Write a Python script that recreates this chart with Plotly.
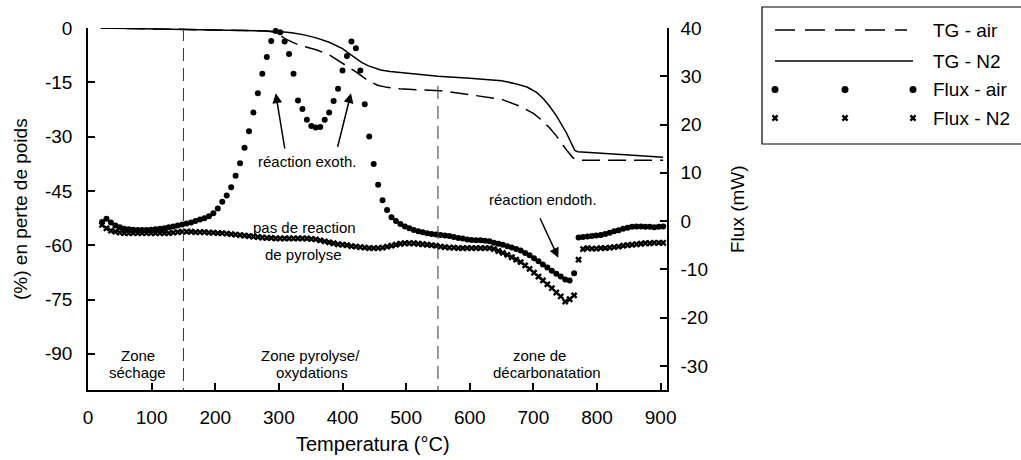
import plotly.graph_objects as go

# ---------------- data ----------------
# TG curves (left axis, % weight loss)
tg_air_T = [20, 100, 150, 200, 250, 280, 295, 310, 330, 360, 380, 400, 420, 440, 455, 470, 490, 520, 553,
            595, 630, 650, 680, 700, 710, 725, 737, 752, 762, 768, 800, 904]
tg_air = [0, -0.3, -0.5, -0.6, -0.7, -0.8, -1.2, -3.0, -4.6, -6.1, -7.5, -9.7, -12.0, -14.5, -15.8, -16.4,
          -16.8, -17.1, -17.3, -18.3, -19.2, -19.7, -21.7, -23.6, -25.0, -27.5, -30.0, -33.7, -35.8, -36.5,
          -36.5, -36.5]

tg_n2_T = [20, 100, 200, 250, 280, 300, 320, 340, 360, 380, 400, 410, 420, 430, 440, 450, 460, 475, 490,
           520, 550, 600, 650, 670, 690, 705, 715, 725, 737, 752, 765, 770, 800, 850, 904]
tg_n2 = [0, -0.2, -0.4, -0.6, -0.8, -1.0, -1.3, -1.9, -2.8, -4.0, -5.7, -7.0, -8.3, -9.5, -10.4, -11.1,
         -11.6, -12.0, -12.3, -12.8, -13.3, -13.9, -14.6, -15.3, -16.3, -17.8, -19.4, -21.5, -24.5, -29.0,
         -33.8, -34.2, -34.6, -35.1, -35.7]

# Heat flux (right axis, mW), sampled every 7 °C from 22 °C
flux_T = list(range(22, 905, 7))
flux_air = [-0.2, 0.5, -0.3, -0.9, -1.3, -1.6, -1.7, -1.8, -1.85, -1.85, -1.85, -1.8, -1.7, -1.6, -1.5,
            -1.3, -1.1, -0.9, -0.7, -0.5, -0.3, 0.0, 0.3, 0.6, 1.0, 1.6, 2.6, 4.0, 5.3, 7.0,
            9.4, 12.0, 15.2, 18.6, 22.5, 26.5, 30.5, 34.0, 37.3, 39.4, 39.1, 37.2, 34.6, 30.5, 25.0,
            23.2, 21.0, 19.7, 19.4, 19.5, 21.0, 22.5, 24.9, 27.4, 31.2, 34.2, 37.2, 35.8, 31.2, 24.2,
            17.5, 11.8, 7.5, 4.3, 2.3, 0.8, 0.0, -0.6, -1.1, -1.5, -1.85, -2.1, -2.3, -2.5, -2.7,
            -2.8, -2.9, -3.0, -3.1, -3.3, -3.5, -3.6, -3.8, -3.9, -4.0, -4.0, -4.1, -4.2, -4.5, -4.7,
            -4.9, -5.2, -5.5, -5.8, -6.1, -6.6, -7.1, -7.7, -8.3, -9.0, -9.6, -10.3, -10.9, -11.5, -12.1,
            -12.3, -10.8, -3.4, -3.3, -3.2, -3.1, -3.0, -2.9, -2.7, -2.4, -2.1, -1.9, -1.6, -1.4, -1.2,
            -1.1, -1.1, -1.2, -1.2, -1.3, -1.2, -1.1]
flux_n2 = [-0.8, -1.5, -2.0, -2.2, -2.4, -2.5, -2.5, -2.5, -2.5, -2.5, -2.5, -2.5, -2.5, -2.5, -2.5,
           -2.5, -2.4, -2.3, -2.2, -2.2, -2.2, -2.3, -2.3, -2.3, -2.4, -2.4, -2.5, -2.5, -2.6, -2.7,
           -2.8, -2.9, -3.0, -3.1, -3.2, -3.3, -3.4, -3.5, -3.5, -3.6, -3.6, -3.6, -3.6, -3.6, -3.6,
           -3.6, -3.6, -3.7, -3.8, -4.0, -4.2, -4.4, -4.6, -4.8, -4.9, -5.0, -5.2, -5.3, -5.4, -5.5,
           -5.6, -5.6, -5.6, -5.5, -5.3, -5.1, -4.9, -4.7, -4.6, -4.6, -4.6, -4.7, -4.8, -4.9, -5.0,
           -5.1, -5.3, -5.4, -5.5, -5.5, -5.6, -5.6, -5.6, -5.6, -5.6, -5.6, -5.6, -5.6, -5.8, -6.2,
           -6.6, -7.0, -7.5, -8.0, -8.5, -9.2, -9.9, -10.7, -11.5, -12.3, -13.1, -13.9, -14.8, -15.6, -16.7,
           -16.2, -15.4, -8.0, -5.8, -5.6, -5.7, -5.7, -5.6, -5.6, -5.5, -5.4, -5.3, -5.1, -5.0, -4.9,
           -4.8, -4.7, -4.6, -4.6, -4.5, -4.5, -4.5]

zone_bounds = [150, 550]
zone_tops = [0, -16]

x_ticks = [0, 100, 200, 300, 400, 500, 600, 700, 800, 900]
y_ticks = [0, -15, -30, -45, -60, -75, -90]
y_ticktext = ["0", "-15", "-30", "-45", "-60", "-75", "-90"]
y2_ticks = [40, 30, 20, 10, 0, -10, -20, -30]
y2_ticktext = ["40", "30", "20", "10", "0", "-10", "-20", "-30"]

legend_names = ["TG - air", "TG - N2", "Flux - air", "Flux - N2"]

# ---------------- figure ----------------
W, H = 1021, 460
FONT = "Liberation Sans, Arial, sans-serif"
fig = go.Figure()

fig.add_trace(go.Scatter(x=tg_air_T, y=tg_air, mode="lines", name=legend_names[0],
                         line=dict(color="black", width=1.5, dash="18px,8px"), xaxis="x", yaxis="y"))
fig.add_trace(go.Scatter(x=tg_n2_T, y=tg_n2, mode="lines", name=legend_names[1],
                         line=dict(color="black", width=1.5), xaxis="x", yaxis="y"))
fig.add_trace(go.Scatter(x=flux_T, y=flux_air, mode="markers", name=legend_names[2],
                         marker=dict(symbol="circle", size=6, color="black", line=dict(width=0)),
                         xaxis="x", yaxis="y2"))
fig.add_trace(go.Scatter(x=flux_T, y=flux_n2, mode="markers", name=legend_names[3],
                         marker=dict(symbol="x", size=6, color="black", line=dict(width=0)),
                         xaxis="x", yaxis="y2"))

# zone separators
for xb, yt in zip(zone_bounds, zone_tops):
    fig.add_shape(type="line", xref="x", yref="y", x0=xb, x1=xb, y0=yt, y1=-100,
                  line=dict(color="#333333", width=1, dash="13px,7px"))

# ---------- manual legend (pixel overlay axes) ----------
lx0, lx1 = 775, 913
ly = [30, 61, 89.5, 118]
fig.add_shape(type="rect", xref="x3", yref="y3", x0=762, x1=1030, y0=7, y1=144,
              line=dict(color="black", width=1.2), fillcolor="rgba(0,0,0,0)")
fig.add_trace(go.Scatter(x=[lx0, lx1 - 6], y=[ly[0], ly[0]], mode="lines", showlegend=False,
                         line=dict(color="black", width=1.5, dash="20px,10px"), xaxis="x3", yaxis="y3"))
fig.add_trace(go.Scatter(x=[lx0, lx1], y=[ly[1], ly[1]], mode="lines", showlegend=False,
                         line=dict(color="black", width=1.5), xaxis="x3", yaxis="y3"))
fig.add_trace(go.Scatter(x=[lx0, 845, lx1], y=[ly[2]] * 3, mode="markers", showlegend=False,
                         marker=dict(symbol="circle", size=7, color="black"), xaxis="x3", yaxis="y3"))
fig.add_trace(go.Scatter(x=[lx0, 845, lx1], y=[ly[3]] * 3, mode="markers", showlegend=False,
                         marker=dict(symbol="x", size=6, color="black", line=dict(width=0)),
                         xaxis="x3", yaxis="y3"))
for name, yy in zip(legend_names, ly):
    fig.add_annotation(x=931, y=yy, xref="x3", yref="y3", text=name, showarrow=False,
                       xanchor="left", yanchor="middle", font=dict(size=19, color="black", family=FONT))

# ---------- text annotations ----------
def txt(x, y, t, size=15):
    fig.add_annotation(x=x, y=y, xref="x3", yref="y3", text=t, showarrow=False,
                       xanchor="center", yanchor="middle", font=dict(size=size, color="black", family=FONT))

txt(306.7, 161.5, "réaction exoth.")
txt(542.7, 199, "réaction endoth.")
txt(304, 227, "pas de reaction")
txt(303.3, 254, "de pyrolyse")
txt(137.7, 355, "Zone")
txt(137.7, 372, "séchage")
txt(310.7, 355, "Zone pyrolyse/")
txt(312, 372, "oxydations")
txt(539.3, 355, "zone de")
txt(546.7, 372, "décarbonatation")

def arrow(hx, hy, tx, ty):
    fig.add_annotation(x=hx, y=hy, ax=tx, ay=ty, xref="x3", yref="y3", axref="x3", ayref="y3",
                       text="", showarrow=True, arrowhead=2, arrowsize=1.3, arrowwidth=1.5,
                       arrowcolor="black")

arrow(275.7, 93.3, 285, 150)
arrow(351, 93.3, 337.3, 148.3)
arrow(558.3, 257.7, 539.3, 216.7)

# axis titles
fig.add_annotation(x=20, y=209, xref="x3", yref="y3", text="(%) en perte de poids", textangle=-90,
                   showarrow=False, font=dict(size=19, color="black", family=FONT))
fig.add_annotation(x=737, y=209, xref="x3", yref="y3", text="Flux (mW)", textangle=-90,
                   showarrow=False, font=dict(size=19, color="black", family=FONT))
fig.add_annotation(x=373, y=444, xref="x3", yref="y3", text="Temperatura (°C)",
                   showarrow=False, font=dict(size=20, color="black", family=FONT))

xdom = [88 / W, 667 / W]
ydom = [(H - 390) / H, (H - 28) / H]
axis_common = dict(showgrid=False, zeroline=False, showline=True, linecolor="black", linewidth=1.5,
                   ticks="inside", ticklen=7, tickwidth=1.5, tickcolor="black",
                   tickfont=dict(size=19, color="black", family=FONT), automargin=False)

fig.update_layout(
    width=W, height=H,
    margin=dict(l=0, r=0, t=0, b=0),
    paper_bgcolor="white", plot_bgcolor="rgba(0,0,0,0)",
    showlegend=False,
    font=dict(family=FONT, color="black"),
    xaxis=dict(domain=xdom, range=[0, 910], tickvals=x_ticks, anchor="y", ticklabelstandoff=9,
               **axis_common),
    yaxis=dict(domain=ydom, range=[-100, 0], tickvals=y_ticks, ticktext=y_ticktext, anchor="x",
               ticklabelstandoff=10, **axis_common),
    yaxis2=dict(domain=ydom, range=[-35, 40], tickvals=y2_ticks, ticktext=y2_ticktext,
                overlaying="y", side="right", anchor="x", ticklabelstandoff=8, **axis_common),
    xaxis3=dict(domain=[0, 1], range=[0, W], visible=False, anchor="y3"),
    yaxis3=dict(domain=[0, 1], range=[H, 0], visible=False, anchor="x3"),
)

fig.write_html("out.html")
